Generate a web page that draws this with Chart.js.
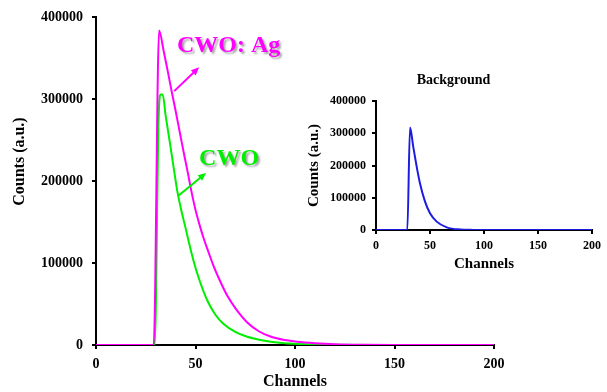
<!DOCTYPE html>
<html>
<head>
<meta charset="utf-8">
<script src="https://cdn.jsdelivr.net/npm/chart.js@4.4.1/dist/chart.umd.min.js"></script>
<style>
  html, body { margin: 0; padding: 0; background: #fff; }
  #wrap { position: relative; width: 607px; height: 392px; }
  #mainChart { position: absolute; left: 0; top: 0; }
  #insetChart { position: absolute; left: 300px; top: 64px; }
</style>
</head>
<body>
<div id="wrap">
  <canvas id="mainChart" width="607" height="392"></canvas>
  <canvas id="insetChart" width="307" height="216"></canvas>
</div>
<script>
// CWO: Ag (magenta)
const cwoAgChannels = [0, 29, 31.7, 34, 36, 38, 40, 42, 44, 46, 48, 50, 52, 54, 56, 59, 62, 66, 70, 76, 82, 88, 95, 101, 110, 120, 135, 150, 200];
const cwoAgCounts   = [0, 0, 384000, 359000, 335000, 310000, 286000, 261000, 236000, 212000, 187000, 165000, 147000, 131000, 117000, 97000, 80000, 60000, 45000, 27500, 16500, 10000, 6000, 4000, 2200, 1000, 300, 0, 0];

// CWO (green)
const cwoChannels = [0, 29.5, 31.5, 32.5, 33.5, 35, 37, 39, 41, 43, 45, 47, 49, 52, 56, 60, 64, 70, 76, 84, 92, 105, 120, 140, 200];
const cwoCounts   = [0, 0, 280000, 306000, 306000, 280000, 249000, 217000, 186000, 163000, 143000, 122000, 103000, 79000, 54000, 37000, 26000, 16000, 10000, 5500, 2800, 900, 200, 0, 0];

// Background (blue, inset)
const bgChannels = [0, 29, 31.5, 34.5, 37.7, 40.7, 45.4, 50, 56.2, 65.5, 78, 90, 100, 200];
const bgCounts   = [0, 0, 318000, 258000, 196000, 145000, 88000, 52000, 26000, 8300, 1500, 300, 0, 0];

const xTicks = [0, 50, 100, 150, 200];
const yTicks = [0, 100000, 200000, 300000, 400000];

// Etiquetas con flecha (en unidades de datos)
const labels = [
  { text: 'CWO: Ag', color: '#ff00ff', x: 40.7, y: 365000, from: [39.3, 310000], to: [51.8, 339000] },
  { text: 'CWO',     color: '#00ee00', x: 51.8, y: 227000, from: [41.2, 182000], to: [55.3, 210000] }
];

const FONT = "'Liberation Serif', 'Times New Roman', serif";

function toPoints(xs, ys) {
  return xs.map((x, i) => ({ x: x, y: ys[i] }));
}

function axisOpts(min, max, step, tickList, size, tickLen, pad, title, titleSize, titlePad) {
  return {
    type: 'linear',
    min: min,
    max: max,
    afterBuildTicks: s => { s.ticks = tickList.map(v => ({ value: v })); },
    ticks: {
      stepSize: step,
      color: '#000',
      padding: pad,
      font: { family: FONT, size: size, weight: 'bold' },
      callback: v => String(v)
    },
    grid: {
      display: true,
      drawOnChartArea: false,
      drawTicks: true,
      tickLength: tickLen,
      tickColor: '#000',
      tickWidth: 2,
      color: '#000',
      lineWidth: 2
    },
    border: { display: true, color: '#000', width: 2 },
    title: {
      display: title !== '',
      text: title,
      color: '#000',
      padding: titlePad,
      font: { family: FONT, size: titleSize, weight: 'bold' }
    }
  };
}

function arrow(ctx, x1, y1, x2, y2, color) {
  const a = Math.atan2(y2 - y1, x2 - x1);
  ctx.save();
  ctx.strokeStyle = color;
  ctx.fillStyle = color;
  ctx.lineWidth = 2;
  ctx.beginPath();
  ctx.moveTo(x1, y1);
  ctx.lineTo(x2 - 5 * Math.cos(a), y2 - 5 * Math.sin(a));
  ctx.stroke();
  ctx.beginPath();
  ctx.moveTo(x2, y2);
  ctx.lineTo(x2 - 8 * Math.cos(a) + 3.5 * Math.sin(a), y2 - 8 * Math.sin(a) - 3.5 * Math.cos(a));
  ctx.lineTo(x2 - 8 * Math.cos(a) - 3.5 * Math.sin(a), y2 - 8 * Math.sin(a) + 3.5 * Math.cos(a));
  ctx.closePath();
  ctx.fill();
  ctx.restore();
}

const labelPlugin = {
  id: 'labelPlugin',
  afterDraw(chart) {
    const ctx = chart.ctx;
    const sx = chart.scales.x, sy = chart.scales.y;
    labels.forEach(l => {
      arrow(ctx, sx.getPixelForValue(l.from[0]), sy.getPixelForValue(l.from[1]),
                 sx.getPixelForValue(l.to[0]), sy.getPixelForValue(l.to[1]), l.color);
      ctx.save();
      ctx.font = 'bold 24px ' + FONT;
      ctx.textAlign = 'left';
      ctx.textBaseline = 'middle';
      ctx.shadowColor = 'rgba(0,0,0,0.35)';
      ctx.shadowOffsetX = 2;
      ctx.shadowOffsetY = 2;
      ctx.shadowBlur = 2;
      ctx.fillStyle = l.color;
      ctx.fillText(l.text, sx.getPixelForValue(l.x), sy.getPixelForValue(l.y));
      ctx.restore();
    });

    // título del eje Y (un poco por encima del centro, como en el original)
    const area = chart.chartArea;
    ctx.save();
    ctx.translate(20, area.top + (area.bottom - area.top) * 0.44);
    ctx.rotate(-Math.PI / 2);
    ctx.font = 'bold 16px ' + FONT;
    ctx.fillStyle = '#000';
    ctx.textAlign = 'center';
    ctx.textBaseline = 'middle';
    ctx.fillText('Counts (a.u.)', 0, 0);
    ctx.restore();
  }
};

const insetTitlePlugin = {
  id: 'insetTitle',
  afterDraw(chart) {
    const ctx = chart.ctx;
    ctx.save();
    ctx.font = 'bold 14px ' + FONT;
    ctx.fillStyle = '#000';
    ctx.textAlign = 'center';
    ctx.textBaseline = 'middle';
    ctx.fillText('Background', chart.width / 2, 16);
    ctx.restore();
  }
};

const lineDefaults = {
  fill: false,
  pointRadius: 0,
  borderWidth: 2,
  cubicInterpolationMode: 'monotone'
};

// Gráfico principal
const mainX = axisOpts(0, 200, 50, xTicks, 14, 4, 7, 'Channels', 16, { top: 0, bottom: 1 });
mainX.afterFit = s => { s.height = 47; };
const mainY = axisOpts(0, 400000, 100000, yTicks, 14, 4, 9, '', 16, { top: 10, bottom: 0 });
mainY.afterFit = s => { s.width = 96; };

new Chart(document.getElementById('mainChart').getContext('2d'), {
  type: 'line',
  data: {
    datasets: [
      Object.assign({ label: 'CWO: Ag', data: toPoints(cwoAgChannels, cwoAgCounts), borderColor: '#ff00ff' }, lineDefaults),
      Object.assign({ label: 'CWO', data: toPoints(cwoChannels, cwoCounts), borderColor: '#00ee00' }, lineDefaults)
    ]
  },
  options: {
    responsive: false,
    animation: false,
    layout: { padding: { left: 0, right: 113, top: 16, bottom: 0 } },
    scales: { x: mainX, y: mainY },
    plugins: { legend: { display: false }, tooltip: { enabled: false } }
  },
  plugins: [labelPlugin]
});

// Recuadro: Background
const insX = axisOpts(0, 200, 50, xTicks, 12, 4, 5, 'Channels', 15, { top: 0, bottom: 7 });
insX.afterFit = s => { s.height = 50; };
const insY = axisOpts(0, 400000, 100000, yTicks, 12, 4, 6, 'Counts (a.u.)', 15, { top: 5, bottom: 0 });
insY.afterFit = s => { s.width = 76; };

new Chart(document.getElementById('insetChart').getContext('2d'), {
  type: 'line',
  data: {
    datasets: [
      Object.assign({ label: 'Background', data: toPoints(bgChannels, bgCounts), borderColor: '#1c1ce0' }, lineDefaults)
    ]
  },
  options: {
    responsive: false,
    animation: false,
    layout: { padding: { left: 0, right: 15, top: 37, bottom: 0 } },
    scales: { x: insX, y: insY },
    plugins: { legend: { display: false }, tooltip: { enabled: false } }
  },
  plugins: [insetTitlePlugin]
});
</script>
</body>
</html>
